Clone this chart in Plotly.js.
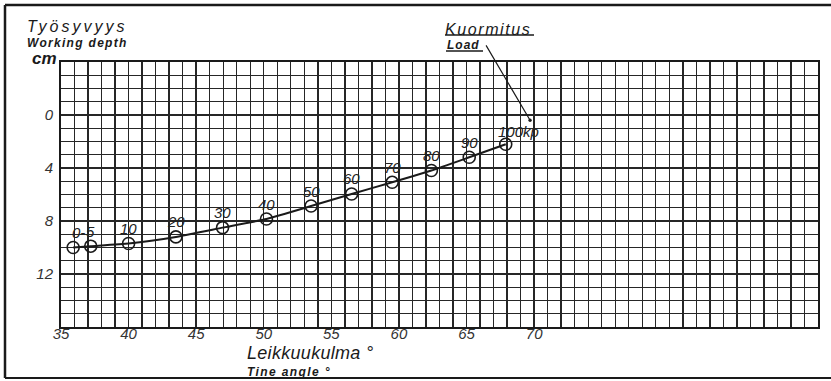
<!DOCTYPE html>
<html>
<head>
<meta charset="utf-8">
<script src="https://cdn.plot.ly/plotly-3.0.1.min.js"></script>
<style>html,body{margin:0;padding:0;background:#fff;}#chart{width:831px;height:381px;}</style>
</head>
<body>
<div id="chart"></div>
<script>
// ---- data ----
const loads = ['0-', '5', '10', '20', '30', '40', '50', '60', '70', '80', '90', '100kp'];
const angle = [35.9, 37.2, 40.0, 43.5, 46.95, 50.2, 53.5, 56.5, 59.5, 62.4, 65.2, 67.9];
const depth = [10.0, 9.9, 9.7, 9.2, 8.5, 7.85, 6.87, 5.96, 5.08, 4.19, 3.19, 2.21];
const xTickVals = [35, 40, 45, 50, 55, 60, 65, 70];
const yTickVals = [0, 4, 8, 12];
const xRange = [35, 91];
const yRange = [16, -4];
const arrowTarget = {x: 69.7, y: 0.4};

// ---- layout helpers (pixel -> paper) ----
const L = 61, T = 62, W = 757, H = 265;
const px = p => (p - L) / W;
const py = p => (T + H - p) / H;

const FONT = '"Liberation Sans", "DejaVu Sans", sans-serif';
const ink = '#1a1a1a';

// grid every 1 unit; only the reference's labelled values get text
const xGrid = [], yGrid = [];
for (let v = xRange[0]; v <= xRange[1]; v++) xGrid.push(v);
for (let v = yRange[1]; v <= yRange[0]; v++) yGrid.push(v);
const xText = xGrid.map(v => xTickVals.includes(v) ? String(v) : '');
const yText = yGrid.map(v => yTickVals.includes(v) ? String(v) : '');

const trace = {
  x: angle, y: depth,
  mode: 'lines+markers',
  line: {color: ink, width: 2, shape: 'spline', smoothing: 0.4},
  marker: {symbol: 'circle-open', size: 12, color: ink, line: {width: 1.6, color: ink}},
  hoverinfo: 'skip'
};

const annotations = [];
loads.forEach((t, i) => {
  const first = i === 0, last = i === loads.length - 1;
  annotations.push({
    x: angle[i], y: depth[i], xref: 'x', yref: 'y', text: t, showarrow: false,
    xanchor: first || last ? 'left' : 'center', yanchor: 'middle',
    xshift: first ? -3 : (last ? -10 : 0), yshift: last ? 13 : 15,
    font: {family: FONT, size: 15, style: 'italic', color: '#222'}
  });
});

function sp(text, ls) { return '<span style="letter-spacing:' + ls + 'px">' + text + '</span>'; }
function txt(text, x, y, size, bold) {
  return {
    xref: 'paper', yref: 'paper', x: px(x), y: py(y), text: text, showarrow: false,
    xanchor: 'left', yanchor: 'middle', borderpad: 0,
    font: {family: FONT, size: size, style: 'italic', weight: bold ? 'bold' : 'normal', color: ink}
  };
}
annotations.push(txt(sp('Työsyvyys', 3), 26, 26, 16, false));
annotations.push(txt(sp('Working depth', 1.3), 26, 43, 12, true));
annotations.push(txt('cm', 31, 58, 17, true));
annotations.push(txt(sp('Kuormitus', 1.6), 444, 29, 16, false));
annotations.push(txt(sp('Load', 1), 446, 45, 12, true));
annotations.push(txt(sp('Leikkuukulma °', 0.3), 246, 352.5, 18, false));
annotations.push(txt(sp('Tine angle °', 1.4), 246, 371.5, 12, true));
// leader line from "Load" to the curve end
annotations.push({
  x: arrowTarget.x, y: arrowTarget.y, xref: 'x', yref: 'y', text: ' ', showarrow: true,
  ax: -47, ay: -80, arrowhead: 6, arrowsize: 0.7, arrowwidth: 1.2, arrowcolor: ink, standoff: 0
});

function seg(x0, y0, x1, y1, w) {
  return {type: 'line', xref: 'paper', yref: 'paper', x0: px(x0), y0: py(y0), x1: px(x1), y1: py(y1),
          line: {color: ink, width: w}};
}
const shapes = [
  seg(445, 35, 534, 35, 1.3),   // underline Kuormitus
  seg(446, 51, 483, 51, 1.3),   // underline Load
  seg(5, 5, 831, 5, 2.5),       // outer frame top
  seg(5, 5, 5, 378, 2.5),       // outer frame left
  seg(5, 378, 831, 378, 2)      // outer frame bottom
];

const gridCol = '#262626';
const layout = {
  width: 831, height: 381,
  margin: {l: L, r: 831 - L - W, t: T, b: 381 - T - H, pad: 0},
  paper_bgcolor: '#fff', plot_bgcolor: '#fff',
  showlegend: false,
  xaxis: {
    range: xRange, tickmode: 'array', tickvals: xGrid, ticktext: xText, ticks: '',
    showgrid: true, gridcolor: gridCol, gridwidth: 1.4, zeroline: false,
    showline: true, mirror: true, linecolor: ink, linewidth: 2,
    tickfont: {family: FONT, size: 15, style: 'italic', color: '#333'},
    ticklabelstandoff: -8, fixedrange: true
  },
  yaxis: {
    range: yRange, tickmode: 'array', tickvals: yGrid, ticktext: yText, ticks: '',
    showgrid: true, gridcolor: gridCol, gridwidth: 1.4, zeroline: false,
    showline: true, mirror: true, linecolor: ink, linewidth: 2,
    tickfont: {family: FONT, size: 15, style: 'italic', color: '#333'},
    ticklabelstandoff: 3, fixedrange: true
  },
  annotations: annotations,
  shapes: shapes
};

Plotly.newPlot('chart', [trace], layout, {staticPlot: true, displayModeBar: false});
</script>
</body>
</html>
